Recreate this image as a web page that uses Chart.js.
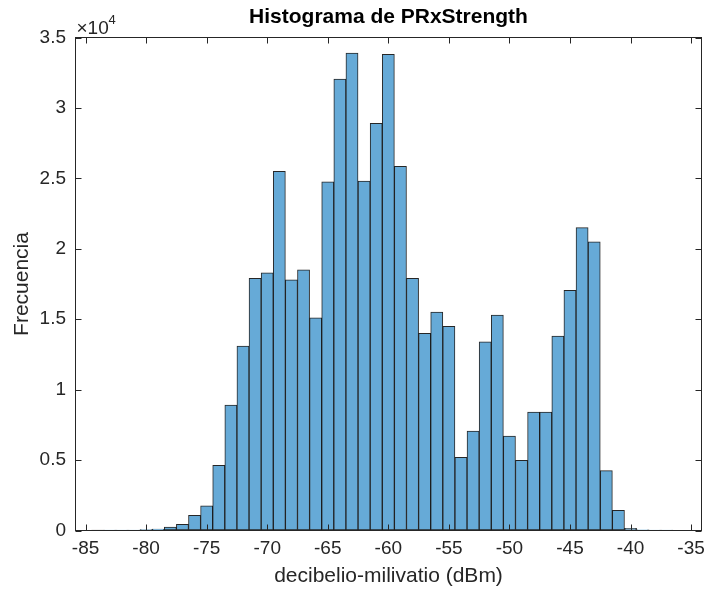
<!DOCTYPE html>
<html>
<head>
<meta charset="utf-8">
<script src="https://cdn.jsdelivr.net/npm/chart.js@4.4.1/dist/chart.umd.min.js"></script>
<style>
  body { margin: 0; background: #fff; }
  #chart { display: block; }
</style>
</head>
<body>
<canvas id="chart" width="705" height="589"></canvas>
<script>
const ctx = document.getElementById('chart');

// centros de bin (dBm), ancho 1
const binCenters = [-84, -83, -82, -81, -80, -79, -78, -77, -76, -75, -74, -73, -72, -71, -70, -69,
  -68, -67, -66, -65, -64, -63, -62, -61, -60, -59, -58, -57, -56, -55, -54, -53, -52, -51, -50,
  -49, -48, -47, -46, -45, -44, -43, -42, -41, -40, -39, -38, -37];
const counts = [5, 10, 15, 30, 60, 100, 250, 440, 1080, 1760, 4630, 8900, 13100, 17900, 18300, 25500,
  17800, 18500, 15100, 24750, 32050, 33900, 24800, 28900, 33800, 25850, 17900, 14000, 15500, 14500, 5200, 7050, 13400, 15300, 6700,
  4980, 8400, 8400, 13800, 17050, 21500, 20500, 4250, 1430, 150, 50, 20, 10];

const xTicks = [-85, -80, -75, -70, -65, -60, -55, -50, -45, -40, -35];
const yTicks = [0, 5000, 10000, 15000, 20000, 25000, 30000, 35000];

const axisColor = '#262626';
Chart.defaults.font.family = "'Liberation Sans', Arial, sans-serif";
Chart.defaults.color = axisColor;

// caja de ejes estilo MATLAB con marcas hacia dentro
const boxPlugin = {
  id: 'matlabBox',
  afterDraw(chart) {
    const c = chart.ctx;
    const a = chart.chartArea;
    const xs = chart.scales.x, ys = chart.scales.y;
    c.save();
    c.strokeStyle = axisColor;
    c.lineWidth = 1;
    c.strokeRect(a.left, a.top, a.right - a.left, a.bottom - a.top);
    c.beginPath();
    xTicks.forEach(v => {
      const px = Math.round(xs.getPixelForValue(v)) + 0.5;
      c.moveTo(px, a.bottom); c.lineTo(px, a.bottom - 6);
      c.moveTo(px, a.top); c.lineTo(px, a.top + 6);
    });
    yTicks.forEach(v => {
      const py = Math.round(ys.getPixelForValue(v)) + 0.5;
      c.moveTo(a.left, py); c.lineTo(a.left + 6, py);
      c.moveTo(a.right, py); c.lineTo(a.right - 6, py);
    });
    c.stroke();
    // multiplicador del eje y
    c.fillStyle = axisColor;
    c.textBaseline = 'alphabetic';
    c.font = "19px 'Liberation Sans', Arial, sans-serif";
    c.fillText('\u00d710', a.left + 1, a.top - 3.5);
    c.font = "13px 'Liberation Sans', Arial, sans-serif";
    c.fillText('4', a.left + 33, a.top - 14);
    c.restore();
  }
};

const data = {
  datasets: [{
    label: 'PRxStrength',
    data: binCenters.map((x, i) => ({ x: x, y: counts[i] })),
    backgroundColor: 'rgb(102, 170, 215)',
    borderColor: 'rgba(0, 0, 0, 0.85)',
    borderWidth: 1,
    borderSkipped: false,
    barPercentage: 1,
    categoryPercentage: 1
  }]
};

const config = {
  type: 'bar',
  data: data,
  options: {
    responsive: false,
    animation: false,
    devicePixelRatio: 1,
    layout: { padding: { left: 0, right: 3.5, top: 0, bottom: 0 } },
    plugins: {
      legend: { display: false },
      tooltip: { enabled: false },
      title: {
        display: true,
        fullSize: false,
        text: 'Histograma de PRxStrength',
        color: '#000',
        font: { size: 21, weight: 'bold' },
        padding: { top: 4.4, bottom: 7.9 }
      }
    },
    scales: {
      x: {
        type: 'linear',
        min: -85.83,
        max: -34.14,
        offset: false,
        afterBuildTicks: s => { s.ticks = xTicks.map(v => ({ value: v })); },
        afterFit: s => { s.height = 58.5; s.paddingLeft = 0; s.paddingRight = 0; },
        grid: { display: true, drawOnChartArea: false, drawTicks: false },
        border: { display: false },
        ticks: { padding: 7, font: { size: 19 }, color: axisColor, maxRotation: 0, autoSkip: false },
        title: {
          display: true,
          text: 'decibelio-milivatio (dBm)',
          font: { size: 21 },
          color: axisColor,
          padding: { top: 0, bottom: 0 }
        }
      },
      y: {
        min: 0,
        max: 35000,
        afterBuildTicks: s => { s.ticks = yTicks.map(v => ({ value: v })); },
        afterFit: s => { s.width = 75.5; s.paddingTop = 0; s.paddingBottom = 0; },
        grid: { display: true, drawOnChartArea: false, drawTicks: false },
        border: { display: false },
        ticks: {
          padding: 9.5,
          font: { size: 19 },
          color: axisColor,
          callback: v => String(v / 10000)
        },
        title: {
          display: true,
          text: 'Frecuencia',
          font: { size: 21 },
          color: axisColor,
          padding: { top: 9.4, bottom: 0 }
        }
      }
    }
  },
  plugins: [boxPlugin]
};

new Chart(ctx, config);
</script>
</body>
</html>
